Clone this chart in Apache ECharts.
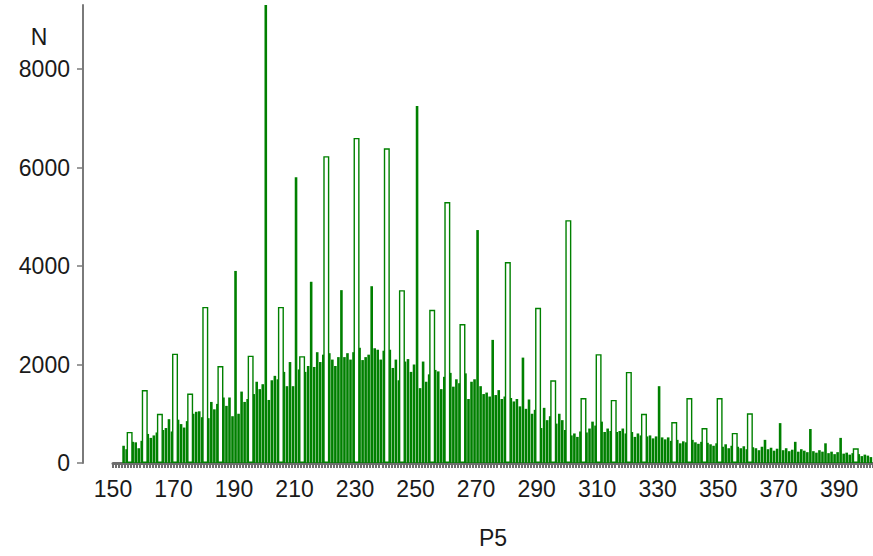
<!DOCTYPE html>
<html><head><meta charset="utf-8">
<script src="https://cdn.jsdelivr.net/npm/echarts@6/dist/echarts.min.js"></script>
<style>html,body{margin:0;padding:0;background:#fff}#c{width:873px;height:556px}</style>
</head><body><div id="c"></div>
<script>
// P5 bins (integer values, bar covers [v, v+1))
const bins = [
  153,154,155,156,157,158,159,
  160,161,162,163,164,165,166,167,168,169,
  170,171,172,173,174,175,176,177,178,179,
  180,181,182,183,184,185,186,187,188,189,
  190,191,192,193,194,195,196,197,198,199,
  200,201,202,203,204,205,206,207,208,209,
  210,211,212,213,214,215,216,217,218,219,
  220,221,222,223,224,225,226,227,228,229,
  230,231,232,233,234,235,236,237,238,239,
  240,241,242,243,244,245,246,247,248,249,
  250,251,252,253,254,255,256,257,258,259,
  260,261,262,263,264,265,266,267,268,269,
  270,271,272,273,274,275,276,277,278,279,
  280,281,282,283,284,285,286,287,288,289,
  290,291,292,293,294,295,296,297,298,299,
  300,301,302,303,304,305,306,307,308,309,
  310,311,312,313,314,315,316,317,318,319,
  320,321,322,323,324,325,326,327,328,329,
  330,331,332,333,334,335,336,337,338,339,
  340,341,342,343,344,345,346,347,348,349,
  350,351,352,353,354,355,356,357,358,359,
  360,361,362,363,364,365,366,367,368,369,
  370,371,372,373,374,375,376,377,378,379,
  380,381,382,383,384,385,386,387,388,389,
  390,391,392,393,394,395,396,397,398,399,
  400
];
// N (frequency) per bin
const counts = [
  350,280,630,430,420,300,450,
  1480,590,510,560,620,1000,670,710,890,640,
  2220,880,790,720,850,1410,1000,1040,1050,930,
  3170,910,1240,1090,1200,1970,1330,1160,1330,950,
  3900,1000,1450,1240,1300,2180,1400,1650,1500,1600,
  9300,1280,1680,1770,1700,3170,1850,1560,2050,1560,
  5800,1900,2170,1850,1970,3680,1950,2250,2050,2200,
  6230,2230,2100,1970,2150,3510,2150,2230,2100,2250,
  6600,2340,2090,2150,2200,3590,2330,2300,2100,2280,
  6390,2300,1930,2100,1680,3510,2060,2110,1850,2000,
  7250,1520,2060,1650,1800,3110,1890,1860,1500,1750,
  5300,1830,1550,1700,1620,2820,1820,1300,1650,1700,
  4730,1560,1400,1430,1350,2500,1380,1480,1300,1350,
  4080,1320,1250,1300,1150,2140,1100,1290,1000,1080,
  3150,710,1120,870,950,1680,800,1000,870,670,
  4930,560,600,530,640,1320,620,700,840,760,
  2210,840,630,700,650,1280,630,650,700,600,
  1850,630,530,600,560,1000,540,560,500,540,
  1560,520,480,520,450,830,470,400,440,420,
  1320,470,420,390,430,710,410,380,350,400,
  1320,330,380,300,350,610,330,300,340,280,
  1010,320,300,260,330,470,280,310,250,290,
  810,260,300,240,270,430,230,280,250,220,
  690,240,210,260,230,400,200,230,180,220,
  510,190,210,170,200,300,180,140,170,150,
  120
];
// bins drawn as outlined (hollow) bars
const hollowBins = [155,160,165,170,175,180,185,195,205,212,220,230,240,245,255,260,265,280,290,295,300,305,310,315,320,325,335,340,345,350,355,360,395];
const xTickLabels = [150,170,190,210,230,250,270,290,310,330,350,370,390];
const yTickLabels = [0,2000,4000,6000,8000];
const xName = 'P5';
const yName = 'N';

const hollowSet = new Set(hollowBins);
const solidData = [], hollowData = [];
bins.forEach((b, i) => {
  const pt = [b + 0.5, counts[i]];
  (hollowSet.has(b) ? hollowData : solidData).push(pt);
});
const xMin = 150, xMax = 401.2;
const xMinorTicks = [];
for (let v = xMin; v <= xMax; v++) xMinorTicks.push(v);

const GREEN = '#008000';
const AXIS = '#6e6e6e';
const FONT = 'Liberation Sans, Arial, sans-serif';
const plain = v => String(v);

const chart = echarts.init(document.getElementById('c'), null, {renderer: 'svg'});
chart.setOption({
  animation: false,
  backgroundColor: '#fff',
  grid: {left: 113, right: 0, top: 5, bottom: 93},
  xAxis: [{
    type: 'value', min: xMin, max: xMax, offset: 3,
    name: xName, nameLocation: 'middle', nameGap: 60,
    nameTextStyle: {fontSize: 23, color: '#1a1a1a', fontFamily: FONT},
    axisLine: {show: true, lineStyle: {color: AXIS, width: 3}},
    axisTick: {show: true, customValues: xMinorTicks, length: 5, lineStyle: {color: AXIS, width: 2}},
    axisLabel: {customValues: xTickLabels, formatter: plain, fontSize: 23, color: '#1a1a1a', fontFamily: FONT, margin: 11},
    splitLine: {show: false}
  }, {
    type: 'value', min: xMin, max: xMax, show: false
  }],
  yAxis: {
    type: 'value', min: 0, max: 9300, offset: 30,
    axisLine: {show: true, lineStyle: {color: '#7a7a7a', width: 2}},
    axisTick: {show: true, customValues: yTickLabels, length: 6, lineStyle: {color: '#7a7a7a', width: 1.5}},
    axisLabel: {customValues: yTickLabels, formatter: plain, fontSize: 23, color: '#1a1a1a', fontFamily: FONT, margin: 13},
    splitLine: {show: false}
  },
  graphic: [{
    type: 'text', x: 39, y: 37,
    style: {text: yName, fontSize: 23, fill: '#1a1a1a', fontFamily: FONT, align: 'center', verticalAlign: 'middle'}
  }],
  series: [{
    type: 'bar', xAxisIndex: 0, data: solidData, barWidth: 2.6,
    itemStyle: {color: GREEN}, silent: true
  }, {
    type: 'bar', xAxisIndex: 1, data: hollowData, barWidth: 6,
    itemStyle: {color: '#fff', borderColor: GREEN, borderWidth: 1.4}, silent: true
  }]
});
</script></body></html>
